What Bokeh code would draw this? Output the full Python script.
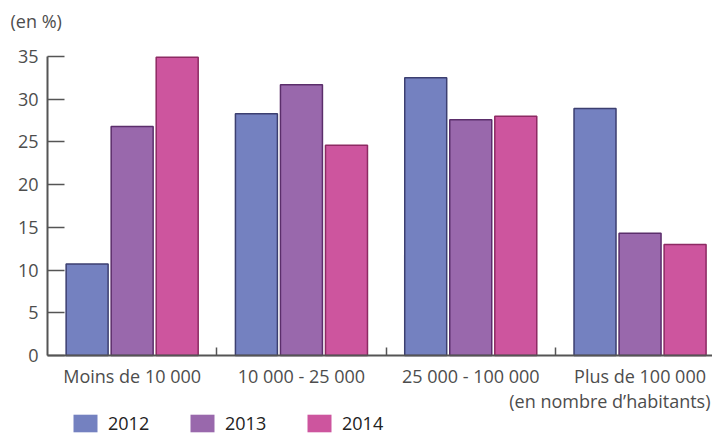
from bokeh.plotting import figure
from bokeh.models import FixedTicker, Range1d, Legend, LegendItem, ColumnDataSource, Label
from bokeh.embed import file_html
from bokeh.resources import INLINE

categories = ["Moins de 10 000", "10 000 - 25 000", "25 000 - 100 000", "Plus de 100 000"]
years = ["2012", "2013", "2014"]
v2012 = [10.7, 28.3, 32.5, 28.9]
v2013 = [26.8, 31.7, 27.6, 14.3]
v2014 = [34.9, 24.6, 28.0, 13.0]
y_ticks = [0, 5, 10, 15, 20, 25, 30, 35]

series = [v2012, v2013, v2014]
fills = ["#7481c0", "#9968ac", "#cd559e"]
lines = ["#3c3f70", "#5b2e6b", "#8d2a63"]
offsets = [-0.266, 0.0, 0.266]

FONT = "Open Sans"
TXT = "#4d4d4d"
FS = "18px"

W, H = 712, 435
GX = 169.3          # pixels per category group
PY = 8.543          # pixels per percent
X0, Y0 = 47, 355    # pixel position of origin
x_end = (W - X0) / GX
p = figure(width=W, height=H, output_backend="svg", toolbar_location=None,
           x_range=Range1d(-X0 / GX, x_end), y_range=Range1d(-(H - Y0) / PY, Y0 / PY),
           min_border=0)
p.outline_line_color = None
p.grid.grid_line_color = None
p.background_fill_color = "white"
p.border_fill_color = "white"

centers = [i + 0.5 for i in range(len(categories))]
items = []
for k, (vals, fc, lc) in enumerate(zip(series, fills, lines)):
    src = ColumnDataSource(dict(x=[c + offsets[k] for c in centers], top=vals))
    d = p.vbar(x="x", top="top", width=0.248, source=src, fill_color=fc, line_color=None)
    p.vbar(x="x", top="top", width=0.248, source=src, fill_color=fc, line_color=lc, line_width=1.5)
    items.append(LegendItem(label=years[k], renderers=[d]))

xa = p.xaxis[0]
xa.fixed_location = 0
xa.bounds = (0, x_end)
xa.ticker = FixedTicker(ticks=centers, minor_ticks=[1, 2, 3])
xa.major_label_overrides = {c: cat for c, cat in zip(centers, categories)}
xa.major_tick_line_color = None
xa.minor_tick_in = 8
xa.minor_tick_out = 0
xa.minor_tick_line_color = "#555555"
xa.minor_tick_line_width = 1.5
xa.axis_line_color = "#555555"
xa.axis_line_width = 2
xa.major_label_text_font = FONT
xa.major_label_text_font_size = FS
xa.major_label_text_color = TXT
xa.major_label_standoff = 2

ya = p.yaxis[0]
ya.fixed_location = 0
ya.bounds = (0, 35)
ya.ticker = FixedTicker(ticks=y_ticks)
ya.minor_tick_line_color = None
ya.major_tick_in = 17
ya.major_tick_out = 0
ya.major_tick_line_color = "#555555"
ya.major_tick_line_width = 1.5
ya.axis_line_color = "#555555"
ya.axis_line_width = 2
ya.major_label_text_font = FONT
ya.major_label_text_font_size = FS
ya.major_label_text_color = TXT
ya.major_label_standoff = 9

p.add_layout(Label(x=(10 - X0) / GX, y=(Y0 - 20) / PY, text="(en %)", text_font=FONT,
                   text_font_size=FS, text_color=TXT, text_align="left", text_baseline="middle"))
p.add_layout(Label(x=x_end - 2 / GX, y=-(400 - Y0) / PY, text="(en nombre d\u2019habitants)",
                   text_font=FONT, text_font_size=FS, text_color=TXT, text_align="right",
                   text_baseline="middle"))

legend = Legend(items=items, orientation="horizontal", location=(70, 0), glyph_width=30,
                glyph_height=22, label_standoff=8, label_width=44, spacing=35, padding=0, margin=0,
                border_line_color=None, background_fill_alpha=0, label_text_font=FONT,
                label_text_font_size=FS, label_text_color="#222222", label_height=22)
p.add_layout(legend)

open("out.html", "w").write(file_html(p, INLINE))
